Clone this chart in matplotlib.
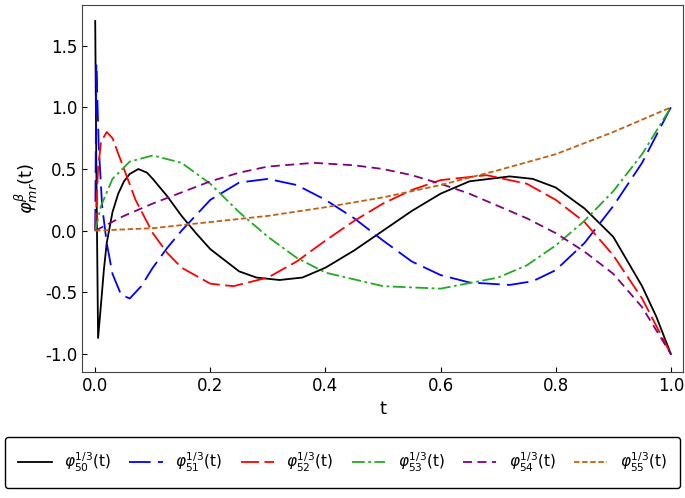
import matplotlib
matplotlib.use("Agg")
import matplotlib.pyplot as plt

# values
t50 = [0, 0.002, 0.005, 0.01, 0.015, 0.02, 0.03, 0.04, 0.05, 0.06, 0.075, 0.09, 0.1, 0.125, 0.15, 0.175, 0.2, 0.25, 0.28, 0.32, 0.36, 0.4, 0.45, 0.5, 0.55, 0.6, 0.65, 0.72, 0.76, 0.8, 0.85, 0.9, 0.95, 0.975, 1]
y50 = [1.7, 0.5, -0.87, -0.6, -0.32, -0.1, 0.15, 0.3, 0.4, 0.46, 0.5, 0.47, 0.42, 0.28, 0.12, -0.02, -0.15, -0.33, -0.38, -0.4, -0.38, -0.3, -0.16, 0.0, 0.16, 0.3, 0.4, 0.44, 0.42, 0.35, 0.18, -0.05, -0.45, -0.7, -1]
t51 = [0, 0.002, 0.006, 0.012, 0.02, 0.03, 0.045, 0.06, 0.08, 0.1, 0.125, 0.15, 0.2, 0.25, 0.3, 0.35, 0.4, 0.45, 0.5, 0.55, 0.6, 0.65, 0.72, 0.76, 0.8, 0.85, 0.9, 0.95, 1]
y51 = [0, 1.35, 0.7, 0.2, -0.1, -0.35, -0.52, -0.55, -0.45, -0.3, -0.14, 0.0, 0.25, 0.39, 0.42, 0.37, 0.25, 0.1, -0.08, -0.25, -0.36, -0.42, -0.44, -0.41, -0.32, -0.1, 0.2, 0.55, 1]
t52 = [0, 0.005, 0.01, 0.02, 0.03, 0.05, 0.07, 0.1, 0.125, 0.15, 0.2, 0.24, 0.3, 0.35, 0.4, 0.45, 0.5, 0.55, 0.6, 0.68, 0.75, 0.8, 0.85, 0.9, 0.95, 1]
y52 = [0, 0.5, 0.72, 0.8, 0.75, 0.5, 0.25, -0.02, -0.18, -0.3, -0.43, -0.45, -0.38, -0.25, -0.08, 0.08, 0.22, 0.33, 0.41, 0.45, 0.38, 0.25, 0.07, -0.2, -0.55, -1]
t53 = [0, 0.01, 0.03, 0.06, 0.1, 0.15, 0.2, 0.25, 0.3, 0.35, 0.4, 0.5, 0.6, 0.7, 0.75, 0.8, 0.85, 0.9, 0.95, 1]
y53 = [0, 0.2, 0.42, 0.56, 0.61, 0.55, 0.38, 0.15, -0.05, -0.22, -0.34, -0.45, -0.47, -0.38, -0.28, -0.12, 0.08, 0.32, 0.62, 1]
t54 = [0, 0.05, 0.1, 0.15, 0.2, 0.25, 0.3, 0.38, 0.45, 0.5, 0.55, 0.6, 0.65, 0.7, 0.75, 0.8, 0.85, 0.9, 0.95, 1]
y54 = [0, 0.12, 0.22, 0.31, 0.4, 0.47, 0.52, 0.55, 0.53, 0.5, 0.45, 0.38, 0.3, 0.2, 0.1, -0.02, -0.17, -0.35, -0.62, -1]
t55 = [0, 0.1, 0.2, 0.3, 0.4, 0.5, 0.6, 0.7, 0.8, 0.9, 1]
y55 = [0, 0.02, 0.07, 0.12, 0.19, 0.27, 0.37, 0.49, 0.62, 0.8, 1]

series = [(t50, y50, 'black', '-', '50'),
          (t51, y51, 'blue', (0, (12, 4)), '51'),
          (t52, y52, 'red', (0, (10, 3)), '52'),
          (t53, y53, '#22aa22', (0, (7, 2, 1.5, 2)), '53'),
          (t54, y54, 'purple', (0, (5, 3)), '54'),
          (t55, y55, '#c06010', (0, (3, 1.5)), '55')]

fig = plt.figure(figsize=(6.85, 4.98), dpi=100)
ax = fig.add_axes([0.12, 0.253, 0.877, 0.737])
for t, y, c, ls, lab in series:
    ax.plot(t, y, color=c, linestyle=ls, lw=1.3,
            label=r'$\varphi_{%s}^{1/3}$(t)' % lab)

ax.set_xlim(-0.0226, 1.021)
ax.set_ylim(-1.146, 1.83)
ax.set_xticks([0, 0.2, 0.4, 0.6, 0.8, 1.0])
ax.set_yticks([-1.0, -0.5, 0.0, 0.5, 1.0, 1.5])
ax.set_xticklabels(['0.0', '0.2', '0.4', '0.6', '0.8', '1.0'])
ax.set_yticklabels(['-1.0', '-0.5', '0.0', '0.5', '1.0', '1.5'])
ax.tick_params(labelsize=12, direction='in')
ax.set_xlabel('t', fontsize=13)
ax.set_ylabel(r'$\varphi_{mr}^{\beta}$(t)', fontsize=13)
for s in ax.spines.values():
    s.set_color('#444444')

fig.legend(loc='lower center', bbox_to_anchor=(0.5, 0.005), ncol=6,
           fontsize=11, handlelength=2.2, columnspacing=1.2,
           fancybox=True, edgecolor='black', framealpha=1,
           borderpad=0.9)
fig.savefig('out.png')
